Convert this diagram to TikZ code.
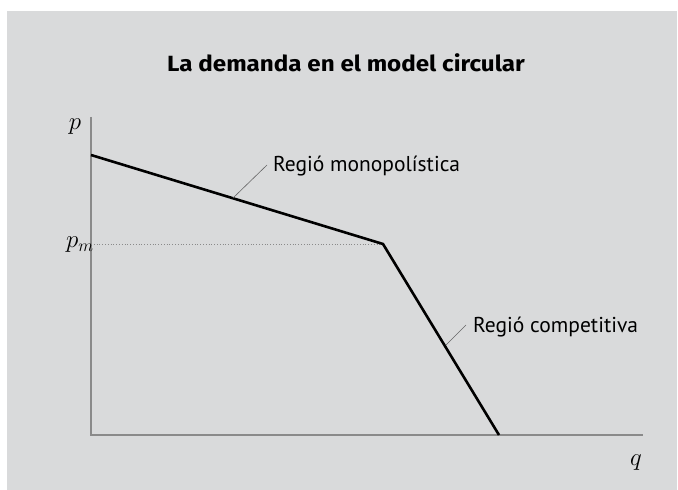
\documentclass[tikz,border=0pt]{standalone}
\usepackage{fontspec}
\setsansfont{PT Sans}
\newfontfamily\titlefont{Fira Sans}
\definecolor{panel}{HTML}{D9DADB}
\definecolor{axisc}{HTML}{8A8A8A}
\begin{document}
\begin{tikzpicture}[x=1pt,y=1pt,
  axis/.style={draw=axisc,line width=1.2pt},
  curve/.style={draw=black,line width=2.6pt,line join=miter},
  leader/.style={draw=black!60,line width=0.6pt},
  lbl/.style={font=\sffamily\fontsize{21.5}{24}\selectfont,inner sep=0pt,anchor=base west},
  mlbl/.style={font=\fontsize{24}{26}\selectfont,inner sep=0pt}]
\useasboundingbox (0,0) rectangle (678,490);
\fill[white] (0,0) rectangle (678,490);
\fill[panel] (7,0) rectangle (677,479);
\node[font=\titlefont\bfseries\fontsize{22}{24}\selectfont,anchor=base,inner sep=0pt,xscale=1.1,transform shape] (title) at (346,418) {La demanda en el model circular};
\coordinate (O) at (91,55);
\coordinate (ytop) at (91,373);
\coordinate (xend) at (643,55);
\coordinate (A) at (91,335);
\coordinate (K) at (383,246);
\coordinate (B) at (499,55);
\coordinate (pmL) at (91,246);
\draw[axis] (ytop) -- (O) -- (xend);
\draw[axisc,line width=0.8pt,dotted] (pmL) -- (K);
\draw[curve] (A) -- (K) -- (B);
\node[mlbl] (p) at (75,363) {$p$};
\node[mlbl] (pm) at (80,245) {$p_m$};
\node[mlbl] (q) at (636,27) {$q$};
\node[lbl] (mono) at (273,318) {Regió monopolística};
\node[lbl] (comp) at (473,157) {Regió competitiva};
\coordinate (m1) at (233,292);
\coordinate (m2) at (267,325);
\coordinate (c1) at (446,145);
\coordinate (c2) at (466,165);
\draw[leader] (m1) -- (m2);
\draw[leader] (c1) -- (c2);
\end{tikzpicture}
\end{document}
